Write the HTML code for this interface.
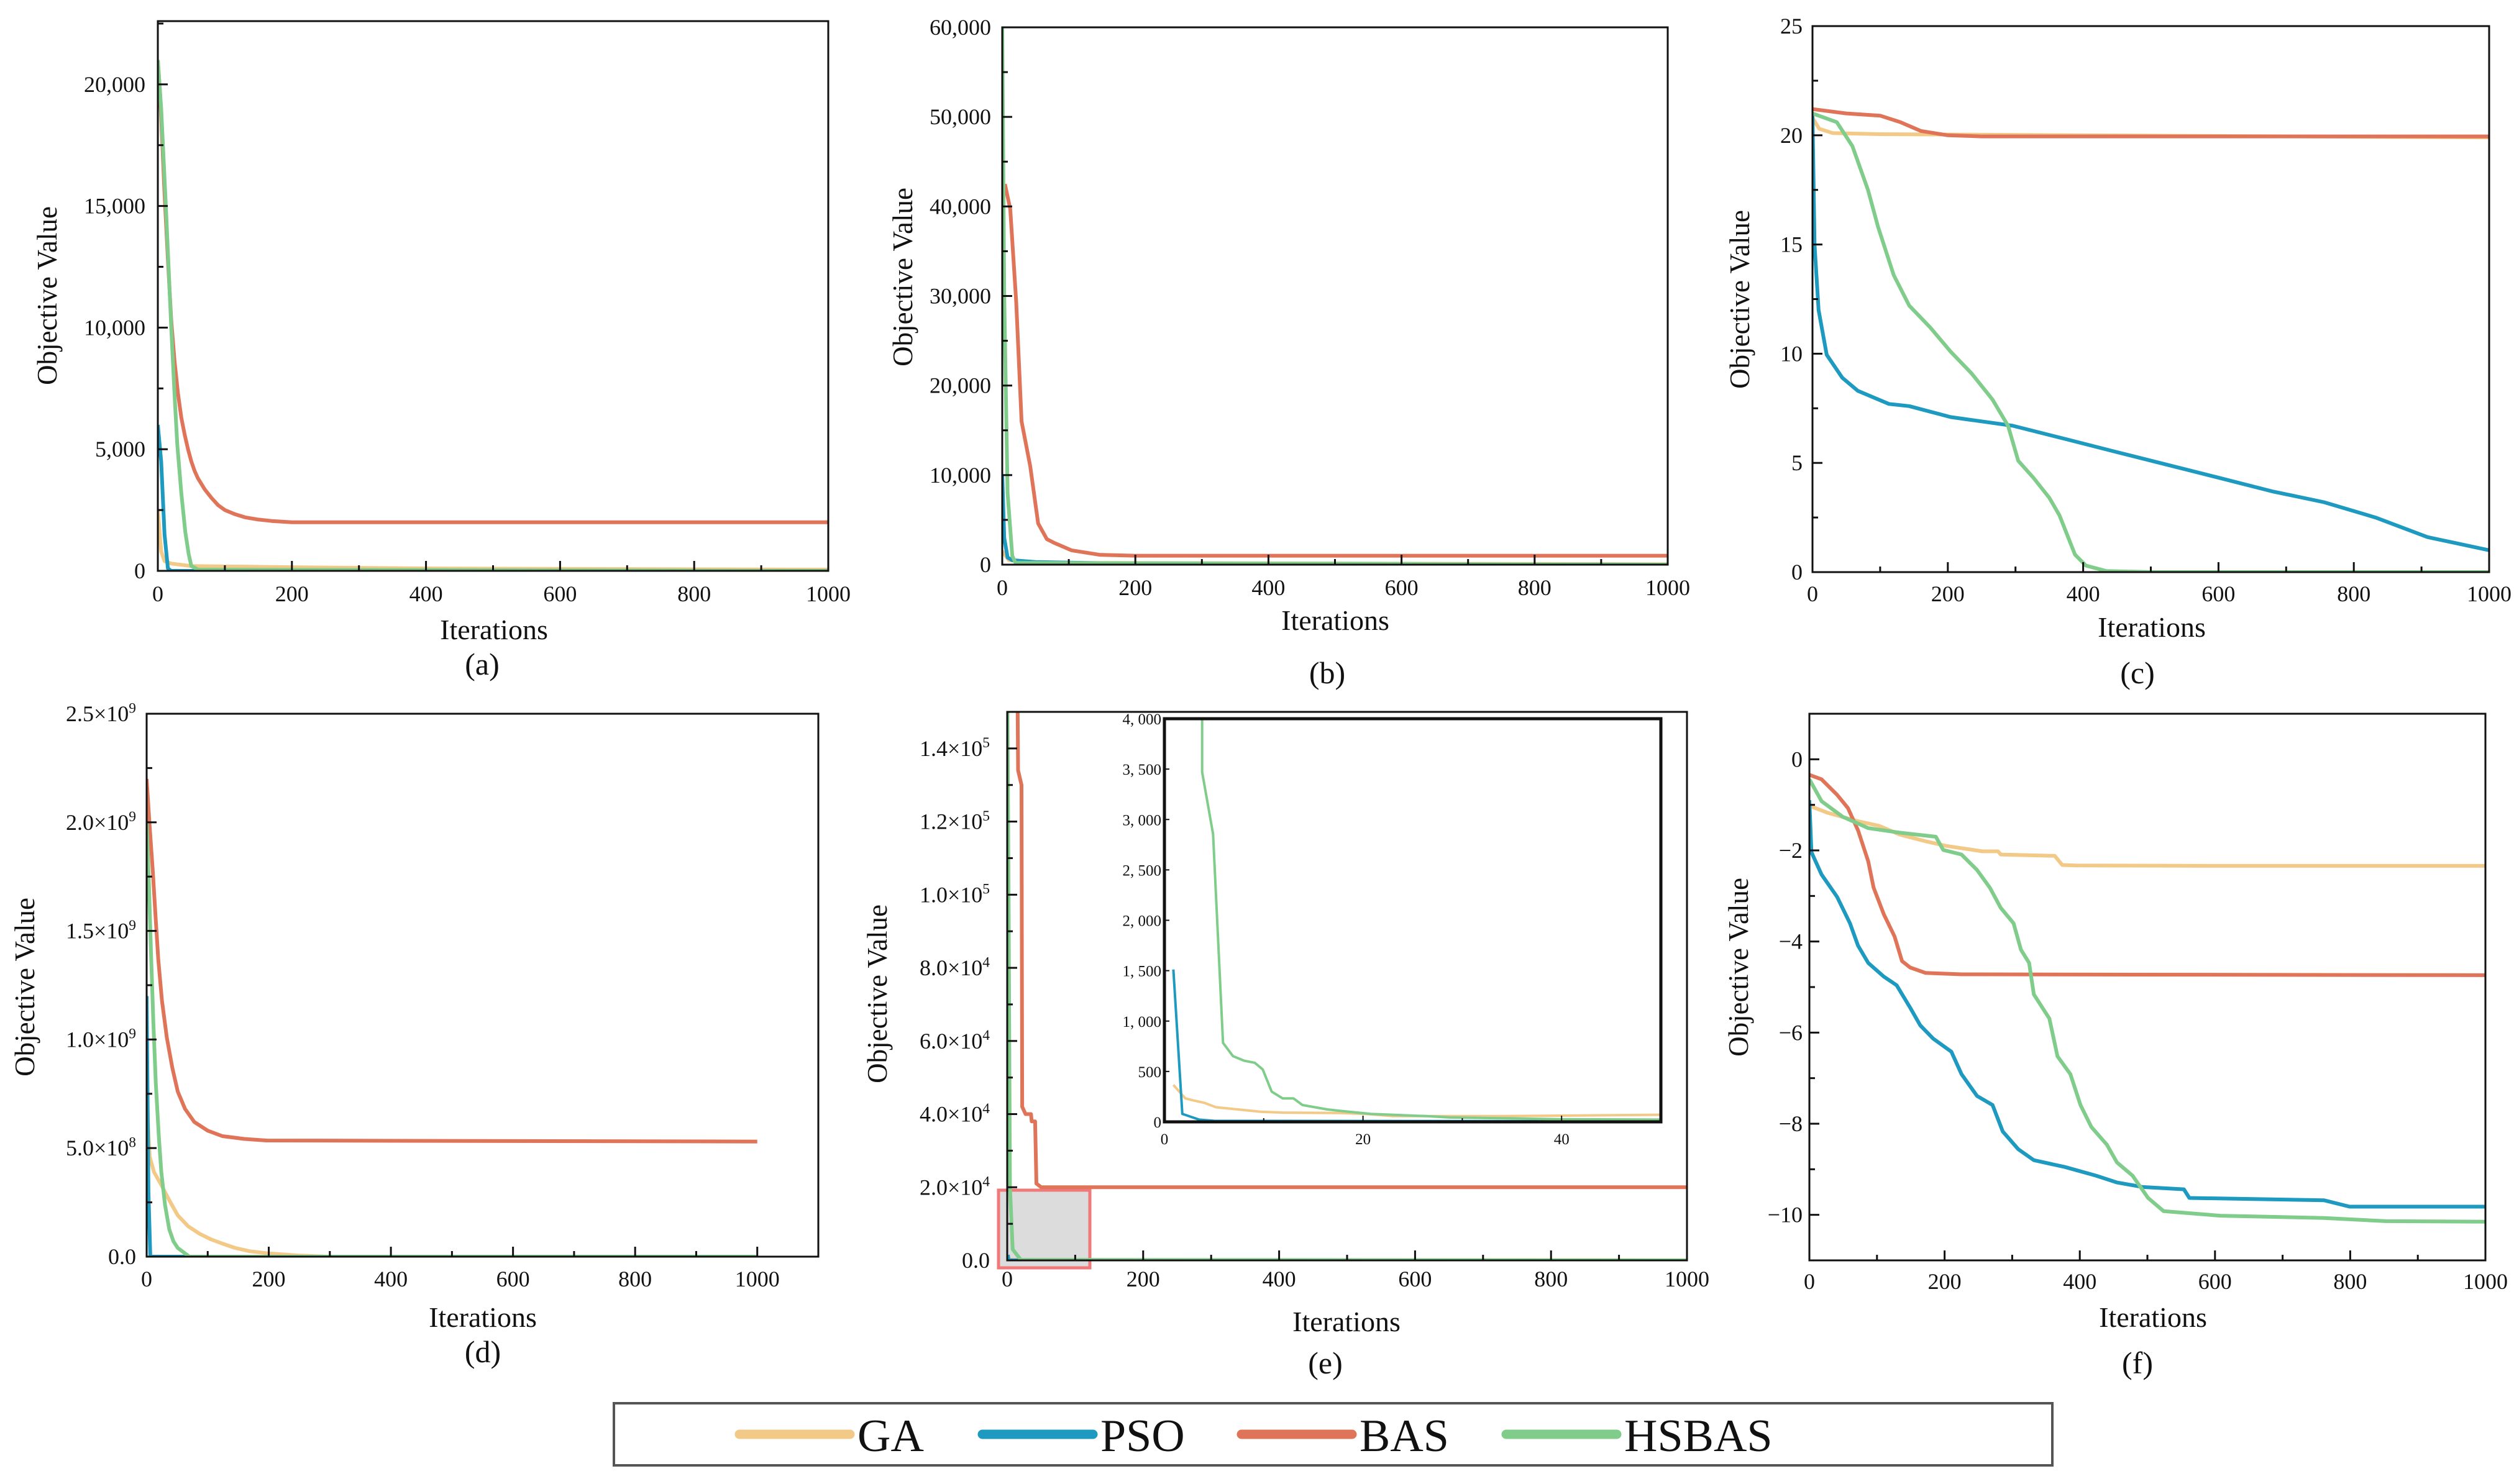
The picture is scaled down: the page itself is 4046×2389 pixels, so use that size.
<!DOCTYPE html>
<html><head><meta charset="utf-8"><style>
html,body{margin:0;padding:0;background:#fff;}
svg{display:block;font-family:"Liberation Serif",serif;}
</style></head><body>
<svg id="fig" width="4046" height="2389" viewBox="0 0 4046 2389" xmlns="http://www.w3.org/2000/svg"></svg>
<script>
// ---------- data (iteration, objective value) ----------
const seriesNames = ["GA","PSO","BAS","HSBAS"];
const seriesColors = ["#f3c987","#1e9ac0","#e07458","#80cc8a"];

const a_GA = [[0,2500],[5,800],[10,400],[20,300],[50,200],[200,150],[400,100],[1000,50]];
const a_PSO = [[0,6000],[5,4500],[10,1500],[15,100],[20,0],[1000,0]];
const a_BAS = [[0,21000],[3,19800],[6,18000],[10,15500],[15,12800],[20,10300],[25,8600],[30,7300],[35,6300],[40,5600],[45,5000],[50,4500],[55,4100],[60,3800],[70,3350],[80,3000],[90,2700],[100,2500],[115,2330],[130,2200],[150,2110],[170,2050],[200,2000],[1000,2000]];
const a_HSBAS = [[0,21000],[5,19000],[8,17300],[12,15000],[16,12500],[20,10000],[25,7200],[29,5200],[35,3200],[41,1600],[46,700],[50,200],[60,50],[1000,0]];

const b_GA = [[0,1500],[10,500],[50,200],[1000,50]];
const b_PSO = [[0,10000],[3,3000],[8,800],[15,500],[50,300],[200,100],[1000,0]];
const b_BAS = [[4,42500],[12,39700],[21,29300],[29,16000],[42,11000],[54,4600],[67,2850],[79,2400],[104,1600],[146,1100],[200,1000],[1000,1000]];
const b_HSBAS = [[0,60000],[3,30000],[8,8000],[15,1000],[20,200],[1000,0]];

const c_GA = [[0,20.8],[10,20.3],[30,20.1],[100,20.05],[1000,19.9]];
const c_PSO = [[0,21],[3,15],[9,12],[21,9.95],[44,8.9],[67,8.3],[113,7.7],[143,7.6],[204,7.1],[296,6.7],[373,6.1],[449,5.5],[526,4.9],[603,4.3],[679,3.7],[756,3.2],[832,2.5],[909,1.6],[1000,1.0]];
const c_BAS = [[0,21.2],[50,21.0],[100,20.9],[130,20.6],[160,20.2],[200,20.0],[250,19.95],[1000,19.95]];
const c_HSBAS = [[0,21],[36,20.6],[59,19.5],[82,17.5],[97,15.8],[120,13.6],[143,12.2],[174,11.2],[204,10.1],[235,9.1],[266,7.9],[289,6.7],[304,5.1],[327,4.3],[350,3.4],[365,2.6],[388,0.8],[404,0.3],[434,0.05],[500,0],[1000,0]];

const d_GA = [[0,0.75e9],[5,0.46e9],[12,0.39e9],[24,0.33e9],[37,0.26e9],[51,0.19e9],[68,0.14e9],[87,0.105e9],[105,0.08e9],[124,0.06e9],[145,0.04e9],[169,0.025e9],[200,0.015e9],[250,0.005e9],[300,0],[1000,0]];
const d_PSO = [[0,1.2e9],[3,0.3e9],[6,0],[1000,0]];
const d_BAS = [[0,2.2e9],[5,1.98e9],[10,1.78e9],[15,1.55e9],[19,1.37e9],[25,1.18e9],[33,1.01e9],[42,0.87e9],[51,0.76e9],[63,0.68e9],[78,0.62e9],[100,0.58e9],[124,0.555e9],[160,0.542e9],[196,0.535e9],[1000,0.53e9]];
const d_HSBAS = [[0,2.0e9],[4,1.7e9],[7,1.41e9],[11,1.08e9],[15,0.8e9],[20,0.55e9],[24,0.39e9],[30,0.24e9],[37,0.126e9],[44,0.07e9],[51,0.04e9],[70,0],[1000,0]];

const e_GA = [[1,366],[3,211],[7,123],[20,79],[50,70],[1000,50]];
const e_PSO = [[1,1511],[2,79],[4,22],[1000,5]];
const e_BAS = [[15,160000],[16,134000],[21,130000],[22,42000],[27,40000],[35,40000],[36,38000],[41,38000],[43,21000],[50,20000],[1000,20000]];
const e_HSBAS = [[0,160000],[2,100000],[4,20000],[8,3000],[20,150],[1000,0]];

const ins_GA = [[0.9,366],[2.1,233],[3,211],[4,189],[5.2,145],[7.4,123],[9.7,100],[11.9,92],[17.5,88],[20.3,79],[23,57],[34,57],[50,70]];
const ins_PSO = [[0.9,1511],[1.8,79],[3.5,22],[5,10],[50,5]];
const ins_HSBAS = [[3,10000],[3.8,4000],[3.8,3471],[4.9,2855],[5.9,784],[6.9,652],[8,608],[9.1,586],[9.9,520],[10.8,300],[11.9,233],[13,233],[13.9,167],[16.4,123],[18.6,100],[20.8,79],[23,70],[26.4,57],[28.7,44],[34.2,35],[39.8,26],[50,22]];

const f_GA = [[0,-1.02],[26,-1.17],[72,-1.36],[103,-1.46],[133,-1.65],[172,-1.8],[202,-1.9],[256,-2.02],[279,-2.02],[283,-2.09],[363,-2.12],[374,-2.32],[394,-2.33],[608,-2.34],[1000,-2.34]];
const f_PSO = [[0,-0.9],[3,-2.04],[18,-2.53],[41,-3.02],[60,-3.6],[72,-4.09],[87,-4.47],[110,-4.77],[129,-4.96],[149,-5.45],[164,-5.84],[183,-6.13],[210,-6.42],[225,-6.91],[248,-7.39],[271,-7.59],[286,-8.17],[309,-8.56],[332,-8.8],[378,-8.95],[424,-9.14],[455,-9.29],[493,-9.39],[554,-9.44],[562,-9.63],[761,-9.68],[799,-9.82],[1000,-9.82]];
const f_BAS = [[0,-0.34],[18,-0.44],[41,-0.78],[57,-1.07],[72,-1.56],[87,-2.24],[95,-2.82],[110,-3.4],[126,-3.89],[137,-4.43],[149,-4.57],[172,-4.69],[225,-4.72],[1000,-4.74]];
const f_HSBAS = [[0,-0.44],[18,-0.92],[49,-1.26],[72,-1.41],[87,-1.51],[133,-1.61],[187,-1.7],[198,-1.99],[225,-2.09],[248,-2.43],[267,-2.82],[283,-3.26],[302,-3.6],[313,-4.18],[325,-4.47],[332,-5.16],[355,-5.69],[367,-6.52],[386,-6.91],[401,-7.59],[417,-8.07],[440,-8.46],[455,-8.85],[478,-9.14],[501,-9.63],[524,-9.92],[608,-10.02],[761,-10.07],[853,-10.14],[1000,-10.15]];

// tick values & labels
const xTickVals = [0,200,400,600,800,1000];
const xTickLabels = ["0","200","400","600","800","1000"];
const aYTicks = [0,5000,10000,15000,20000];
const aYLabels = ["0","5,000","10,000","15,000","20,000"];
const bYTicks = [0,10000,20000,30000,40000,50000,60000];
const bYLabels = ["0","10,000","20,000","30,000","40,000","50,000","60,000"];
const cYTicks = [0,5,10,15,20,25];
const cYLabels = ["0","5","10","15","20","25"];
const dYTicks = [0,0.5e9,1.0e9,1.5e9,2.0e9,2.5e9];
const dYLabels = ["0.0","5.0×10^8","1.0×10^9","1.5×10^9","2.0×10^9","2.5×10^9"];
const eYTicks = [0,2e4,4e4,6e4,8e4,1e5,1.2e5,1.4e5];
const eYLabels = ["0.0","2.0×10^4","4.0×10^4","6.0×10^4","8.0×10^4","1.0×10^5","1.2×10^5","1.4×10^5"];
const fYTicks = [0,-2,-4,-6,-8,-10];
const fYLabels = ["0","−2","−4","−6","−8","−10"];
const insXTicks = [0,20,40];
const insXLabels = ["0","20","40"];
const insYTicks = [0,500,1000,1500,2000,2500,3000,3500,4000];
const insYLabels = ["0","500","1, 000","1, 500","2, 000","2, 500","3, 000","3, 500","4, 000"];

// ---------- drawing ----------
const NS = "http://www.w3.org/2000/svg";
const svg = document.getElementById("fig");
function mk(tag, attrs, parent){
  const e = document.createElementNS(NS, tag);
  for (const k in attrs) e.setAttribute(k, attrs[k]);
  (parent||svg).appendChild(e);
  return e;
}
function label(parent, x, y, str, size, anchor){
  const t = mk("text", {x:x, y:y, "font-size":size, "text-anchor":anchor||"middle", fill:"#111"}, parent);
  const parts = str.split("^");
  t.appendChild(document.createTextNode(parts[0]));
  if (parts[1]){
    const s = mk("tspan", {dy:-size*0.38, "font-size":size*0.65}, t);
    s.textContent = parts[1];
  }
  return t;
}

const panels = [
 {id:"a",L:254,R:1333,T:34,B:919,xmin:0,xmax:1000,ymin:0,ymax:22600,yT:aYTicks,yL:aYLabels,yMinor:2500,s:[a_GA,a_PSO,a_BAS,a_HSBAS],
  lab:{tickR:234,tickY:968,itX:795,itY:1029,pX:776,pY:1086,ovX:76,ovY:476}},
 {id:"b",L:1613,R:2684,T:44,B:909,xmin:0,xmax:1000,ymin:0,ymax:60000,yT:bYTicks,yL:bYLabels,yMinor:5000,s:[b_GA,b_PSO,b_BAS,b_HSBAS],
  lab:{tickR:1595,tickY:958,itX:2149,itY:1014,pX:2136,pY:1100,ovX:1453,ovY:446}},
 {id:"c",L:2917,R:4006,T:42,B:921,xmin:0,xmax:1000,ymin:0,ymax:25,yT:cYTicks,yL:cYLabels,yMinor:2.5,s:[c_GA,c_PSO,c_BAS,c_HSBAS],
  lab:{tickR:2901,tickY:968,itX:3463,itY:1025,pX:3440,pY:1100,ovX:2800,ovY:482}},
 {id:"d",L:236,R:1317,T:1149,B:2023,xmin:0,xmax:1100,ymin:0,ymax:2.5e9,yT:dYTicks,yL:dYLabels,yMinor:0.25e9,s:[d_GA,d_PSO,d_BAS,d_HSBAS],
  lab:{tickR:219,tickY:2071,itX:777,itY:2136,pX:777,pY:2193,ovX:40,ovY:1589}},
 {id:"e",L:1621,R:2715,T:1146,B:2029,xmin:0,xmax:1000,ymin:0,ymax:1.5e5,yT:eYTicks,yL:eYLabels,yMinor:1e4,s:[e_GA,e_PSO,e_BAS,e_HSBAS],
  lab:{tickR:1593,tickY:2071,itX:2167,itY:2143,pX:2133,pY:2211,ovX:1412,ovY:1600}},
 {id:"f",L:2912,R:4000,T:1149,B:2029,xmin:0,xmax:1000,ymin:-11,ymax:1,yT:fYTicks,yL:fYLabels,yMinor:1,s:[f_GA,f_PSO,f_BAS,f_HSBAS],
  lab:{tickR:2901,tickY:2075,itX:3465,itY:2136,pX:3440,pY:2211,ovX:2798,ovY:1557}}
];

function drawLines(g, p, sx, sy, series, names, width, clipId){
  series.forEach((data, i) => {
    if (!data) return;
    const d = data.map((pt, j) => (j ? "L" : "M") + sx(pt[0]).toFixed(1) + "," + sy(pt[1]).toFixed(1)).join(" ");
    const path = mk("path", {d:d, fill:"none", stroke:seriesColors[names[i]], "stroke-width":width, "stroke-linejoin":"round", "clip-path":"url(#"+clipId+")"}, g);
    
    
  });
}

const defs = mk("defs", {});
panels.forEach(p => {
  const g = mk("g", {});
  
  
  const sx = v => p.L + (v - p.xmin) / (p.xmax - p.xmin) * (p.R - p.L);
  const sy = v => p.B - (v - p.ymin) / (p.ymax - p.ymin) * (p.B - p.T);
  const cp = mk("clipPath", {id:"clip-"+p.id}, defs);
  mk("rect", {x:p.L, y:p.T, width:p.R-p.L, height:p.B-p.T}, cp);

  if (p.id === "e"){
    const zr = mk("rect", {x:1607, y:1916, width:147, height:125, fill:"#dcdcdc", stroke:"#f07a7a", "stroke-width":5}, g);
    
    
  }

  drawLines(g, p, sx, sy, p.s, [0,1,2,3], 6, "clip-"+p.id);

  const fr = mk("rect", {x:p.L, y:p.T, width:p.R-p.L, height:p.B-p.T, fill:"none", stroke:"#111", "stroke-width":3}, g);
  
  

  for (let v = p.xmin; v <= p.xmax; v += 100){
    const major = v % 200 === 0;
    mk("line", {x1:sx(v), x2:sx(v), y1:p.B, y2:p.B-(major?16:9), stroke:"#111", "stroke-width":3}, g);
  }
  xTickVals.forEach((v, i) => {
    const t = label(g, sx(v), p.lab.tickY, xTickLabels[i], 36, "middle");
    
    
  });
  for (let v = p.ymin; v <= p.ymax + 1e-9; v += p.yMinor){
    const major = p.yT.some(t => Math.abs(t - v) < p.yMinor * 0.01);
    mk("line", {x1:p.L, x2:p.L+(major?16:9), y1:sy(v), y2:sy(v), stroke:"#111", "stroke-width":3}, g);
  }
  p.yT.forEach((v, i) => {
    const t = label(g, p.lab.tickR, sy(v) + 12, p.yL[i], 36, "end");
    
    
  });
  const it = label(g, p.lab.itX, p.lab.itY, "Iterations", 46, "middle");
  
  
  const ov = mk("text", {x:0, y:0, "font-size":45, "text-anchor":"middle", fill:"#111",
    transform:"translate("+(p.lab.ovX+15)+","+p.lab.ovY+") rotate(-90)"}, g);
  ov.textContent = "Objective Value";
  
  
  const pl = label(g, p.lab.pX, p.lab.pY, "(" + p.id + ")", 50, "middle");
  
  

  if (p.id === "e"){
    const q = {L:1874, R:2673, T:1157, B:1806, xmin:0, xmax:50, ymin:0, ymax:4000};
    const ig = mk("g", {}, g);
    
    
    const isx = v => q.L + (v - q.xmin) / (q.xmax - q.xmin) * (q.R - q.L);
    const isy = v => q.B - (v - q.ymin) / (q.ymax - q.ymin) * (q.B - q.T);
    mk("rect", {x:q.L, y:q.T, width:q.R-q.L, height:q.B-q.T, fill:"#fff"}, ig);
    const icp = mk("clipPath", {id:"clip-inset"}, defs);
    mk("rect", {x:q.L, y:q.T, width:q.R-q.L, height:q.B-q.T}, icp);
    drawLines(ig, q, isx, isy, [ins_GA, ins_PSO, null, ins_HSBAS], [0,1,2,3], 4, "clip-inset");
    mk("rect", {x:q.L, y:q.T, width:q.R-q.L, height:q.B-q.T, fill:"none", stroke:"#111", "stroke-width":5}, ig);
    for (let v = 0; v <= 50; v += 10){
      mk("line", {x1:isx(v), x2:isx(v), y1:q.B, y2:q.B-(v%20===0?10:6), stroke:"#111", "stroke-width":2}, ig);
    }
    insXTicks.forEach((v, i) => {
      const t = label(ig, isx(v), q.B + 36, insXLabels[i], 25, "middle");
      
      
    });
    insYTicks.forEach((v, i) => {
      mk("line", {x1:q.L, x2:q.L+8, y1:isy(v), y2:isy(v), stroke:"#111", "stroke-width":2}, ig);
      const t = label(ig, q.L - 5, isy(v) + 9, insYLabels[i], 25, "end");
      
      
    });
  }
});

const lg = mk("g", {});


mk("rect", {x:988, y:2259, width:2315, height:100, fill:"#fff", stroke:"#555", "stroke-width":4}, lg);
const legX = [1190, 1581, 1998, 2424];
seriesNames.forEach((n, i) => {
  const e = mk("g", {}, lg);
  
  
  mk("line", {x1:legX[i], x2:legX[i]+178, y1:2309, y2:2309, stroke:seriesColors[i], "stroke-width":15, "stroke-linecap":"round"}, e);
  const t = mk("text", {x:legX[i]+190, y:2336, "font-size":74, fill:"#111"}, e);
  t.textContent = n;
});
</script>
</body></html>
